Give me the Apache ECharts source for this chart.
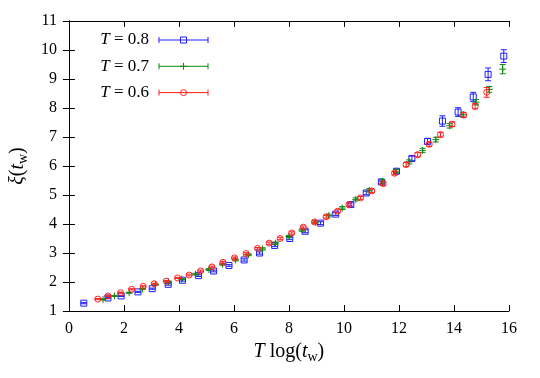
<!DOCTYPE html>
<html>
<head>
<meta charset="utf-8">
<script src="https://cdn.jsdelivr.net/npm/echarts@6/dist/echarts.min.js"></script>
<style>
  html, body { margin: 0; padding: 0; background: #fff; }
  #chart { width: 540px; height: 378px; }
</style>
</head>
<body>
<div id="chart"></div>
<script>
// T = 0.8 (blue squares)
var x08 = [0.54, 1.42, 1.90, 2.51, 3.03, 3.61, 4.13, 4.71, 5.26, 5.82, 6.37, 6.93, 7.48, 8.03, 8.59, 9.15, 9.70, 10.25, 10.81, 11.36, 11.91, 12.47, 13.04, 13.58, 14.15, 14.70, 15.24, 15.81];
var y08 = [1.27, 1.45, 1.52, 1.66, 1.77, 1.92, 2.06, 2.22, 2.38, 2.57, 2.76, 3.00, 3.26, 3.50, 3.75, 4.03, 4.34, 4.67, 5.07, 5.45, 5.82, 6.26, 6.85, 7.55, 7.86, 8.38, 9.16, 9.79];
var e08 = [0.02, 0.02, 0.02, 0.02, 0.02, 0.03, 0.03, 0.03, 0.03, 0.03, 0.04, 0.04, 0.04, 0.04, 0.05, 0.05, 0.05, 0.06, 0.06, 0.07, 0.07, 0.08, 0.10, 0.18, 0.15, 0.16, 0.22, 0.22];

// T = 0.7 (green plus)
var x07 = [1.24, 1.66, 2.19, 2.68, 3.15, 3.62, 4.10, 4.60, 5.09, 5.58, 6.06, 6.53, 7.04, 7.51, 8.00, 8.47, 8.96, 9.45, 9.94, 10.43, 10.92, 11.40, 11.89, 12.37, 12.86, 13.34, 13.84, 14.33, 14.80, 15.28, 15.77];
var y07 = [1.40, 1.52, 1.63, 1.76, 1.91, 2.01, 2.10, 2.27, 2.43, 2.61, 2.76, 2.94, 3.14, 3.34, 3.57, 3.79, 4.06, 4.29, 4.55, 4.85, 5.16, 5.47, 5.82, 6.14, 6.54, 6.91, 7.39, 7.77, 8.20, 8.64, 9.34];
var e07 = [0.02, 0.02, 0.02, 0.02, 0.02, 0.02, 0.03, 0.03, 0.03, 0.03, 0.03, 0.03, 0.04, 0.04, 0.04, 0.04, 0.05, 0.05, 0.05, 0.05, 0.06, 0.06, 0.06, 0.07, 0.07, 0.08, 0.08, 0.08, 0.09, 0.10, 0.16];

// T = 0.6 (red circles)
var x06 = [1.05, 1.42, 1.88, 2.28, 2.70, 3.10, 3.54, 3.95, 4.37, 4.79, 5.20, 5.60, 6.02, 6.44, 6.86, 7.28, 7.68, 8.10, 8.52, 8.93, 9.35, 9.77, 10.18, 10.60, 11.01, 11.43, 11.84, 12.26, 12.68, 13.10, 13.51, 13.93, 14.35, 14.77, 15.19];
var y06 = [1.41, 1.52, 1.63, 1.75, 1.85, 1.94, 2.03, 2.14, 2.24, 2.38, 2.52, 2.68, 2.83, 2.98, 3.16, 3.34, 3.50, 3.69, 3.89, 4.07, 4.25, 4.44, 4.67, 4.90, 5.14, 5.39, 5.75, 6.05, 6.39, 6.75, 7.08, 7.44, 7.76, 8.06, 8.54];
var e06 = [0.02, 0.02, 0.02, 0.02, 0.02, 0.02, 0.02, 0.02, 0.03, 0.03, 0.03, 0.03, 0.03, 0.03, 0.03, 0.04, 0.04, 0.04, 0.04, 0.04, 0.05, 0.05, 0.05, 0.05, 0.06, 0.06, 0.06, 0.07, 0.07, 0.07, 0.08, 0.08, 0.08, 0.09, 0.17];

var legendLabels = ['0.8', '0.7', '0.6'];
var colors = ['#1f1fff', '#118811', '#ff2020'];
var shapes = ['square', 'plus', 'circle'];

var FONT = 'Liberation Serif';

function zip(xs, ys, es) {
  return xs.map(function (x, i) { return [x, ys[i], es[i]]; });
}

function markerShapes(shape, cx, cy, color) {
  var st = { fill: 'none', stroke: color, lineWidth: 1 };
  if (shape === 'square') {
    return [{ type: 'rect', shape: { x: cx - 3, y: cy - 3, width: 6, height: 6 }, style: st }];
  }
  if (shape === 'circle') {
    return [{ type: 'circle', shape: { cx: cx, cy: cy, r: 3 }, style: st }];
  }
  return [
    { type: 'line', shape: { x1: cx - 3.5, y1: cy, x2: cx + 3.5, y2: cy }, style: st },
    { type: 'line', shape: { x1: cx, y1: cy - 3.5, x2: cx, y2: cy + 3.5 }, style: st }
  ];
}

function makeRender(shape, color) {
  return function (params, api) {
    var x = api.value(0), y = api.value(1), e = api.value(2);
    var c = api.coord([x, y]);
    var hi = api.coord([x, y + e]);
    var lo = api.coord([x, y - e]);
    var st = { stroke: color, lineWidth: 1 };
    var kids = [
      { type: 'line', shape: { x1: c[0], y1: hi[1], x2: c[0], y2: lo[1] }, style: st },
      { type: 'line', shape: { x1: c[0] - 3, y1: hi[1], x2: c[0] + 3, y2: hi[1] }, style: st },
      { type: 'line', shape: { x1: c[0] - 3, y1: lo[1], x2: c[0] + 3, y2: lo[1] }, style: st }
    ];
    return { type: 'group', children: kids.concat(markerShapes(shape, c[0], c[1], color)) };
  };
}

var seriesData = [zip(x08, y08, e08), zip(x07, y07, e07), zip(x06, y06, e06)];

var series = seriesData.map(function (d, i) {
  return {
    type: 'custom',
    name: 'T = ' + legendLabels[i],
    renderItem: makeRender(shapes[i], colors[i]),
    encode: { x: 0, y: 1 },
    data: d,
    z: 2 + i
  };
});

// hand-made legend (gnuplot style: label, bar with caps, marker)
var graphic = [];
legendLabels.forEach(function (lab, i) {
  var ly = 40 + i * 26.3;
  var color = colors[i];
  var st = { stroke: color, lineWidth: 1 };
  graphic.push({
    type: 'text', x: 149, y: ly,
    style: {
      text: '{i|T} = ' + lab,
      align: 'right', verticalAlign: 'middle',
      font: '17px ' + FONT, fill: '#000',
      rich: { i: { fontStyle: 'italic', fontFamily: FONT, fontSize: 17 } }
    }
  });
  graphic.push({ type: 'line', shape: { x1: 159, y1: ly, x2: 208, y2: ly }, style: st });
  graphic.push({ type: 'line', shape: { x1: 159, y1: ly - 3, x2: 159, y2: ly + 3 }, style: st });
  graphic.push({ type: 'line', shape: { x1: 208, y1: ly - 3, x2: 208, y2: ly + 3 }, style: st });
  markerShapes(shapes[i], 183.5, ly, color).forEach(function (m) { graphic.push(m); });
});

var chart = echarts.init(document.getElementById('chart'));

var axisCommon = {
  axisLine: { show: true, lineStyle: { color: '#000', width: 1 } },
  axisTick: { show: true, inside: true, length: 6, lineStyle: { color: '#000' } },
  splitLine: { show: false }
};

var option = {
  animation: false,
  backgroundColor: '#fff',
  grid: { left: 63, right: 31, top: 21, bottom: 67 },
  xAxis: [
    Object.assign({
      type: 'value', min: 0, max: 16, interval: 2, position: 'bottom',
      axisLabel: { fontFamily: FONT, fontSize: 16, color: '#000', margin: 10 },
      name: '{i|T} log({i|t}{s|w})',
      nameLocation: 'middle', nameGap: 26,
      nameTextStyle: {
        fontFamily: FONT, fontSize: 20, color: '#000',
        rich: {
          i: { fontStyle: 'italic', fontFamily: FONT, fontSize: 20 },
          s: { fontFamily: FONT, fontSize: 14, padding: [10, 0, 0, 0] }
        }
      }
    }, axisCommon),
    Object.assign({
      type: 'value', min: 0, max: 16, interval: 2, position: 'top',
      axisLabel: { show: false }
    }, axisCommon)
  ],
  yAxis: [
    Object.assign({
      type: 'value', min: 1, max: 11, interval: 1, position: 'left',
      axisLabel: { fontFamily: FONT, fontSize: 16, color: '#000', margin: 12 },
      name: '{i|ξ}({i|t}{s|w})',
      nameLocation: 'middle', nameGap: 30, nameRotate: 90,
      nameTextStyle: {
        fontFamily: FONT, fontSize: 20, color: '#000',
        rich: {
          i: { fontStyle: 'italic', fontFamily: FONT, fontSize: 20 },
          s: { fontFamily: FONT, fontSize: 14, padding: [10, 0, 0, 0] }
        }
      }
    }, axisCommon),
    Object.assign({
      type: 'value', min: 1, max: 11, interval: 1, position: 'right',
      axisLabel: { show: false }
    }, axisCommon)
  ],
  graphic: graphic,
  series: series
};

chart.setOption(option);
</script>
</body>
</html>
